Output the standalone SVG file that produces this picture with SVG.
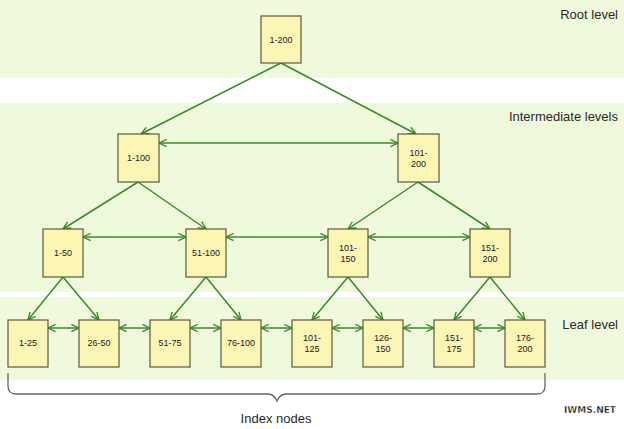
<svg xmlns="http://www.w3.org/2000/svg" width="624" height="429" viewBox="0 0 624 429">
<defs>
<style>
.band{fill:#eefadb}
.node rect{fill:#fbf6b4;stroke:#5a5a3c;stroke-width:1.2}
.node text{font-family:"Liberation Sans",Arial,sans-serif;font-size:9px;fill:#222;text-anchor:middle}
.lbl{font-family:"Liberation Sans",Arial,sans-serif;font-size:13px;fill:#2a2a2a}
.conn line{stroke:#3b8a2a;stroke-width:1.5;fill:none}
.tree{marker-end:url(#ah)}
.sib{marker-start:url(#ahs);marker-end:url(#ah)}
</style>
<marker id="ah" viewBox="0 0 10 10" refX="9.5" refY="5" markerWidth="9" markerHeight="9" markerUnits="userSpaceOnUse" orient="auto">
<polyline points="1,1 9.5,5 1,9" fill="none" stroke="#3b8a2a" stroke-width="1.5"/>
</marker>
<marker id="ahs" viewBox="0 0 10 10" refX="0.5" refY="5" markerWidth="9" markerHeight="9" markerUnits="userSpaceOnUse" orient="auto">
<polyline points="9,1 0.5,5 9,9" fill="none" stroke="#3b8a2a" stroke-width="1.5"/>
</marker>
</defs>
<rect width="624" height="429" fill="#ffffff"/>
<g id="bands">
<rect class="band" x="0" y="0" width="624" height="78"/>
<rect class="band" x="0" y="103" width="624" height="189"/>
<rect class="band" x="0" y="297" width="624" height="83"/>
</g>
<g class="conn" id="connectors">
<line class="tree" x1="281" y1="63" x2="141" y2="134"/>
<line class="tree" x1="281" y1="63" x2="416" y2="134"/>
<line class="sib" x1="159" y1="143" x2="398" y2="143"/>
<line class="tree" x1="138" y1="182" x2="63" y2="229"/>
<line class="tree" x1="138" y1="182" x2="206" y2="229"/>
<line class="tree" x1="418" y1="182" x2="348" y2="229"/>
<line class="tree" x1="418" y1="182" x2="490" y2="229"/>
<line class="sib" x1="83" y1="237" x2="186" y2="237"/>
<line class="sib" x1="226" y1="237" x2="328" y2="237"/>
<line class="sib" x1="368" y1="237" x2="470" y2="237"/>
<line class="tree" x1="63" y1="277" x2="28" y2="320"/>
<line class="tree" x1="63" y1="277" x2="99" y2="320"/>
<line class="tree" x1="206" y1="277" x2="170" y2="320"/>
<line class="tree" x1="206" y1="277" x2="241" y2="320"/>
<line class="tree" x1="348" y1="277" x2="312" y2="320"/>
<line class="tree" x1="348" y1="277" x2="383" y2="320"/>
<line class="tree" x1="490" y1="277" x2="454" y2="320"/>
<line class="tree" x1="490" y1="277" x2="525" y2="320"/>
<line class="sib" x1="48" y1="328" x2="79" y2="328"/>
<line class="sib" x1="119" y1="328" x2="150" y2="328"/>
<line class="sib" x1="190" y1="328" x2="221" y2="328"/>
<line class="sib" x1="261" y1="328" x2="292" y2="328"/>
<line class="sib" x1="332" y1="328" x2="363" y2="328"/>
<line class="sib" x1="403" y1="328" x2="434" y2="328"/>
<line class="sib" x1="474" y1="328" x2="505" y2="328"/>
</g>
<g class="node" id="n1-200"><rect x="261" y="16" width="40" height="47"/><text x="281" y="42.5">1-200</text></g>
<g class="node" id="n1-100"><rect x="118" y="134" width="41" height="48"/><text x="138.5" y="161">1-100</text></g>
<g class="node" id="n101-200"><rect x="398" y="134" width="41" height="48"/><text x="418.5" y="155.5">101-</text><text x="418.5" y="166.5">200</text></g>
<g class="node" id="n1-50"><rect x="43" y="229" width="40" height="48"/><text x="63" y="256">1-50</text></g>
<g class="node" id="n51-100"><rect x="186" y="229" width="40" height="48"/><text x="206" y="256">51-100</text></g>
<g class="node" id="n101-150"><rect x="328" y="229" width="40" height="48"/><text x="348" y="250.5">101-</text><text x="348" y="261.5">150</text></g>
<g class="node" id="n151-200"><rect x="470" y="229" width="40" height="48"/><text x="490" y="250.5">151-</text><text x="490" y="261.5">200</text></g>
<g class="node" id="n1-25"><rect x="8" y="320" width="40" height="47"/><text x="28" y="346">1-25</text></g>
<g class="node" id="n26-50"><rect x="79" y="320" width="40" height="47"/><text x="99" y="346">26-50</text></g>
<g class="node" id="n51-75"><rect x="150" y="320" width="40" height="47"/><text x="170" y="346">51-75</text></g>
<g class="node" id="n76-100"><rect x="221" y="320" width="40" height="47"/><text x="241" y="346">76-100</text></g>
<g class="node" id="n101-125"><rect x="292" y="320" width="40" height="47"/><text x="312" y="340.5">101-</text><text x="312" y="351.5">125</text></g>
<g class="node" id="n126-150"><rect x="363" y="320" width="40" height="47"/><text x="383" y="340.5">126-</text><text x="383" y="351.5">150</text></g>
<g class="node" id="n151-175"><rect x="434" y="320" width="40" height="47"/><text x="454" y="340.5">151-</text><text x="454" y="351.5">175</text></g>
<g class="node" id="n176-200"><rect x="505" y="320" width="40" height="47"/><text x="525" y="340.5">176-</text><text x="525" y="351.5">200</text></g>
<g id="labels">
<text class="lbl" x="618" y="19" text-anchor="end">Root level</text>
<text class="lbl" x="618" y="121" text-anchor="end">Intermediate levels</text>
<text class="lbl" x="618" y="329" text-anchor="end">Leaf level</text>
</g>
<g id="brace">
<path d="M8,373 V386 Q8,394 16,394 H268 Q274,394 277,401 Q280,394 286,394 H537 Q545,394 545,386 V373" fill="none" stroke="#666" stroke-width="1.3"/>
<text class="lbl" x="276" y="423" text-anchor="middle">Index nodes</text>
</g>
<text x="590" y="413" text-anchor="middle" font-family="'DejaVu Sans',sans-serif" font-weight="bold" font-size="9" fill="#111" stroke="#fff" stroke-width="0.3">IWMS.NET</text>
</svg>
